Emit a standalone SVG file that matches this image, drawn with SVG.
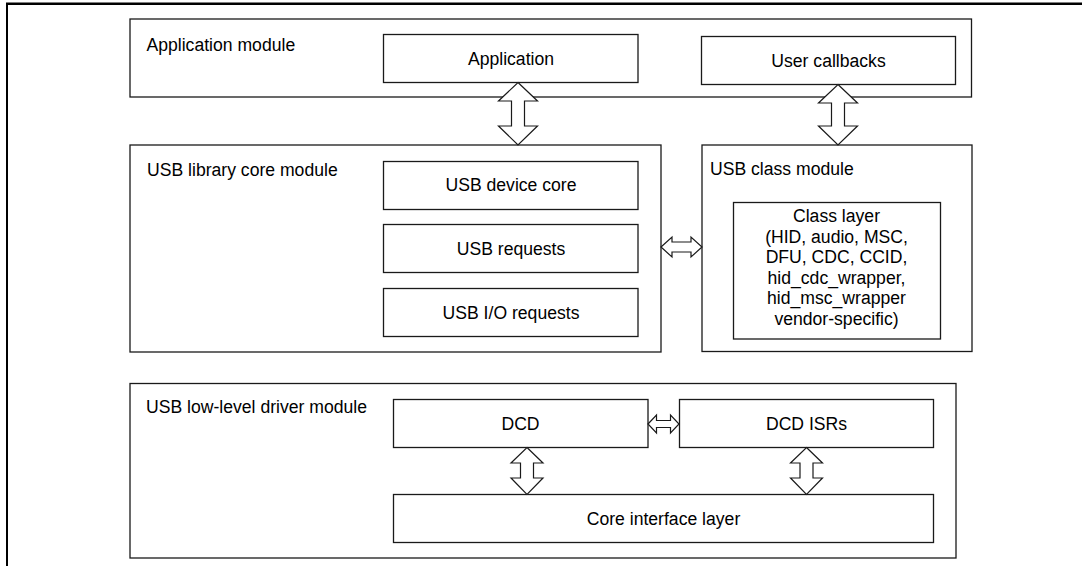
<svg xmlns="http://www.w3.org/2000/svg" width="1082" height="566" viewBox="0 0 1082 566">
  <style>
    .box { fill: #ffffff; stroke: #1a1a1a; stroke-width: 1.3; }
    .frame { fill: none; stroke: #000000; }
    .arrow { fill: #ffffff; stroke: #1a1a1a; stroke-width: 1.2; stroke-linejoin: miter; }
    text { font-family: "Liberation Sans", Arial, sans-serif; font-size: 17.6px; fill: #000000; }
    .c { text-anchor: middle; }
  </style>

  <rect width="1082" height="566" fill="#ffffff"/>

  <!-- page frame: heavy rule along the top and down the left side -->
  <line class="frame" x1="6" y1="3.8" x2="1082" y2="3.8" stroke-width="2.6"/>
  <line class="frame" x1="7" y1="3" x2="7" y2="566" stroke-width="2"/>

  <!-- Application module -->
  <g id="application-module">
    <rect class="box" x="130" y="19" width="841.5" height="78"/>
    <text x="146.5" y="51">Application module</text>
  </g>
  <g id="application">
    <rect class="box" x="383.5" y="34.5" width="254.5" height="48"/>
    <text class="c" x="511" y="64.5">Application</text>
  </g>
  <g id="user-callbacks">
    <rect class="box" x="701.5" y="36.5" width="254" height="48"/>
    <text class="c" x="828.5" y="66.5">User callbacks</text>
  </g>

  <!-- USB library core module -->
  <g id="usb-library-core-module">
    <rect class="box" x="130" y="145" width="531" height="207"/>
    <text x="147" y="176">USB library core module</text>
  </g>
  <g id="usb-device-core">
    <rect class="box" x="383.5" y="161.5" width="254.5" height="48"/>
    <text class="c" x="511" y="191">USB device core</text>
  </g>
  <g id="usb-requests">
    <rect class="box" x="383.5" y="224.5" width="254.5" height="48"/>
    <text class="c" x="511" y="254.5">USB requests</text>
  </g>
  <g id="usb-io-requests">
    <rect class="box" x="383.5" y="288.5" width="254.5" height="48"/>
    <text class="c" x="511" y="318.5">USB I/O requests</text>
  </g>

  <!-- USB class module -->
  <g id="usb-class-module">
    <rect class="box" x="702" y="145" width="270" height="206.5"/>
    <text x="710" y="175">USB class module</text>
  </g>
  <g id="class-layer">
    <rect class="box" x="733.5" y="202.5" width="207" height="136.5"/>
    <text class="c" x="836.5" y="222">Class layer</text>
    <text class="c" x="836.5" y="242.6">(HID, audio, MSC,</text>
    <text class="c" x="836.5" y="263.2">DFU, CDC, CCID,</text>
    <text class="c" x="836.5" y="283.8">hid_cdc_wrapper,</text>
    <text class="c" x="836.5" y="304.4">hid_msc_wrapper</text>
    <text class="c" x="836.5" y="325">vendor-specific)</text>
  </g>

  <!-- USB low-level driver module -->
  <g id="usb-low-level-driver-module">
    <rect class="box" x="130" y="383.5" width="826" height="174.5"/>
    <text x="146" y="413">USB low-level driver module</text>
  </g>
  <g id="dcd">
    <rect class="box" x="393.5" y="399.5" width="254.5" height="48"/>
    <text class="c" x="520.5" y="429.5">DCD</text>
  </g>
  <g id="dcd-isrs">
    <rect class="box" x="679.5" y="399.5" width="254" height="48"/>
    <text class="c" x="806.5" y="429.5">DCD ISRs</text>
  </g>
  <g id="core-interface-layer">
    <rect class="box" x="393.5" y="494.5" width="540" height="48"/>
    <text class="c" x="663.5" y="524.5">Core interface layer</text>
  </g>

  <!-- connectors: hollow double-headed block arrows -->
  <g id="connectors">
    <polygon class="arrow" points="518,82.5 537.5,101 524.5,101 524.5,126 537.5,126 518,145 498.5,126 511.5,126 511.5,101 498.5,101"/>
    <polygon class="arrow" points="838,84.5 857.5,103 844.5,103 844.5,126 857.5,126 838,145 818.5,126 831.5,126 831.5,103 818.5,103"/>
    <polygon class="arrow" points="661,247 672,237 672,242 691,242 691,237 702,247 691,257 691,252 672,252 672,257"/>
    <polygon class="arrow" points="648,424 656.5,415 656.5,420.5 670.5,420.5 670.5,415 679,424 670.5,433 670.5,427.5 656.5,427.5 656.5,433"/>
    <polygon class="arrow" points="527,447.5 543,463 533.5,463 533.5,478 543,478 527,494.5 511,478 520.5,478 520.5,463 511,463"/>
    <polygon class="arrow" points="806.5,447.5 822.5,463 813,463 813,478 822.5,478 806.5,494.5 790.5,478 800,478 800,463 790.5,463"/>
  </g>
</svg>
